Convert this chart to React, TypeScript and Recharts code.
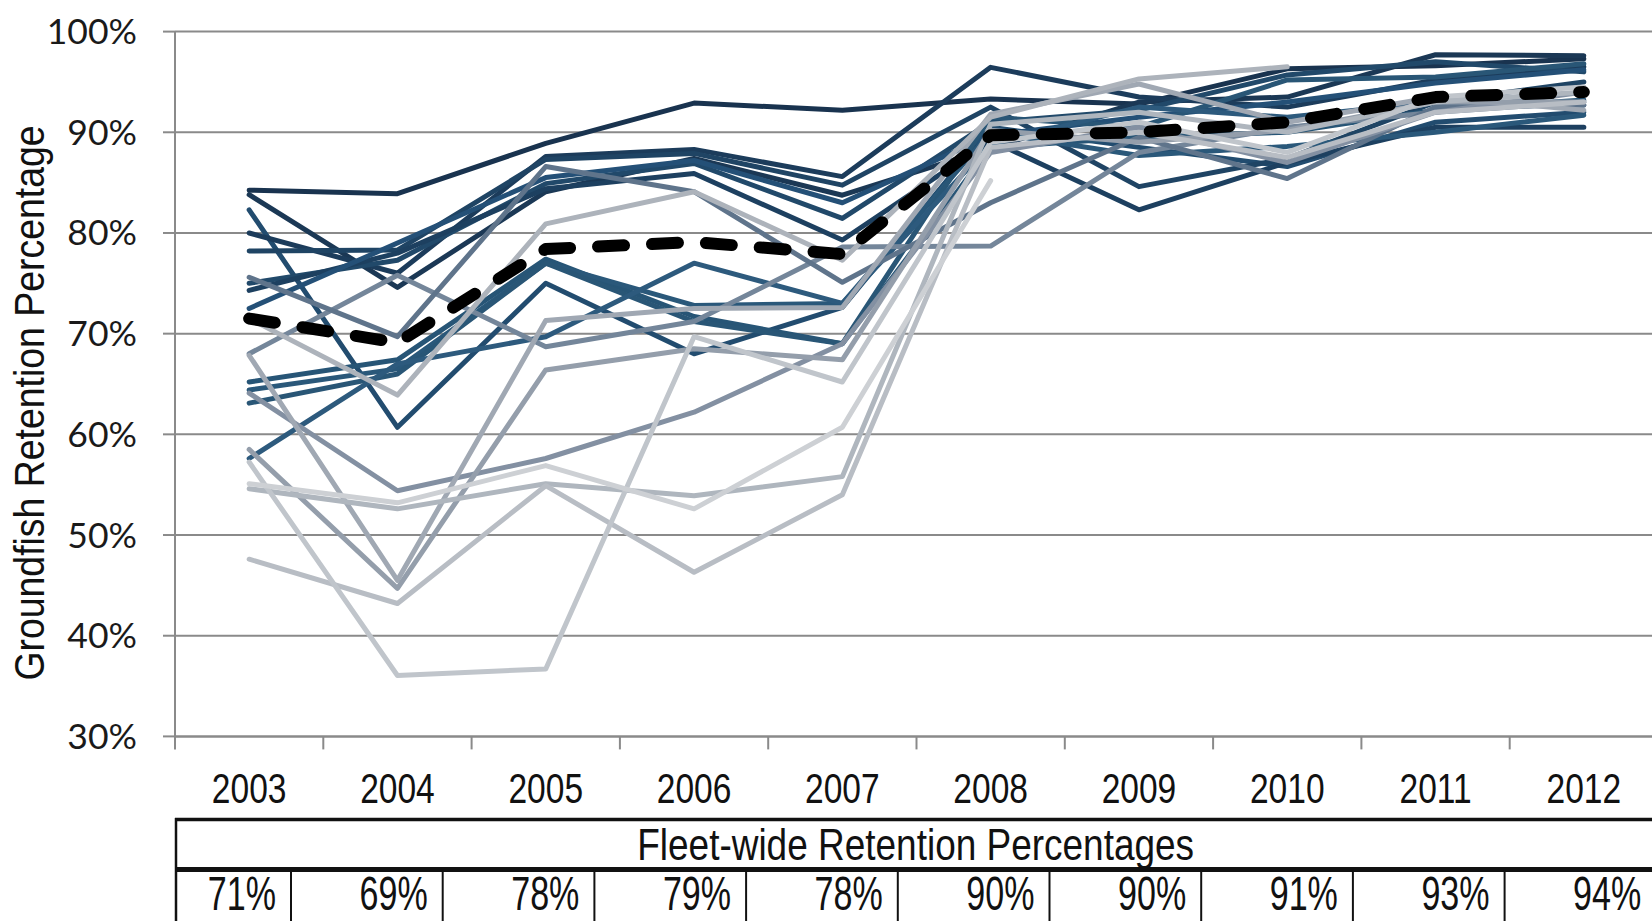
import React from 'react';
import { LineChart, Line, XAxis, YAxis, CartesianGrid } from 'recharts';

const YEARS = [2003, 2004, 2005, 2006, 2007, 2008, 2009, 2010, 2011, 2012];
const Y_TICKS = [30, 40, 50, 60, 70, 80, 90, 100];
const FLEET = [71.5, 69.1, 78.4, 79.1, 77.9, 89.7, 90.0, 91.0, 93.5, 94.0];
const FLEET_TABLE = [71, 69, 78, 79, 78, 90, 90, 91, 93, 94];

const N1 = [84.25, 83.9, 88.9, 92.9, 92.2, 93.3, 92.8, 96.3, 96.6, 97.3];
const N2 = [83.8, 74.6, 84.1, 87.4, 83.75, 88.4, 93.0, 93.5, 97.7, 97.6];
const N3 = [82.3, 60.7, 75.0, 68.0, 72.6, 90.5, 88.5, 86.6, 91.0, 92.0];
const N4 = [80.0, 76.0, 87.6, 88.3, 85.6, 96.45, 93.5, 92.5, 95.2, 96.5];
const N5 = [78.2, 78.3, 87.3, 87.9, 84.75, 92.5, 84.6, 87.4, 93.0, 95.0];
const N6 = [75.0, 77.3, 84.9, 86.9, 81.45, 91.0, 92.2, 95.7, 97.0, 96.0];
const N7 = [74.3, 78.0, 84.4, 85.9, 79.3, 89.2, 82.3, 87.0, 90.5, 90.5];
const N8 = [72.5, 79.0, 85.5, 87.2, 83.0, 89.7, 91.5, 93.0, 94.9, 96.2];
const N9 = [65.2, 67.4, 77.4, 71.7, 69.0, 88.5, 89.5, 90.0, 92.2, 93.2];
const N10 = [64.4, 66.5, 77.0, 72.8, 73.0, 90.0, 87.7, 88.6, 90.0, 91.7];
const N11 = [63.1, 66.0, 77.0, 71.2, 69.0, 91.5, 90.5, 95.2, 95.5, 96.8];
const N12 = [57.6, 67.0, 69.7, 77.0, 73.0, 88.8, 92.5, 91.5, 93.0, 92.7];
const G1 = [68.0, 75.8, 68.7, 71.2, 78.6, 78.7, 88.0, 90.5, 92.0, 93.0];
const G2 = [75.6, 69.7, 86.6, 84.1, 75.1, 83.0, 89.5, 85.4, 92.5, 92.7];
const P1 = [64.1, 54.4, 57.6, 62.2, 69.0, 88.0, 90.5, 87.0, 92.0, 94.0];
const P2 = [67.85, 45.5, 71.3, 72.5, 72.6, 91.8, 94.8, 91.0, 93.5, 92.2];
const P3 = [58.5, 44.7, 66.4, 68.5, 67.4, 90.2, 89.0, 90.2, 93.0, 93.0];
const LG = [71.5, 63.9, 80.9, 84.1, 77.3, 91.5, 95.3, 96.5, null, null];
const P6 = [54.6, 52.6, 55.1, 53.9, 55.8, 90.8, 92.0, 90.0, 93.0, 94.0];
const P7 = [47.6, 43.2, 54.9, 46.3, 54.0, 88.5, 90.0, 87.5, 92.0, 93.0];
const P4 = [57.25, 36.05, 36.7, 69.7, 65.2, 89.0, 91.0, 88.0, 93.5, 94.5];
const P5 = [55.1, 53.2, 56.9, 52.6, 60.7, 85.2, null, null, null, null];

const SERIES: { key: string; values: (number | null)[]; color: string }[] = [
  { key: 'n1', values: N1, color: '#19334f' },
  { key: 'n2', values: N2, color: '#1b3855' },
  { key: 'n3', values: N3, color: '#224c6f' },
  { key: 'n4', values: N4, color: '#1c3c5b' },
  { key: 'n5', values: N5, color: '#1f4464' },
  { key: 'n6', values: N6, color: '#21496a' },
  { key: 'n7', values: N7, color: '#1d4060' },
  { key: 'n8', values: N8, color: '#245077' },
  { key: 'n9', values: N9, color: '#275576' },
  { key: 'n10', values: N10, color: '#2a587a' },
  { key: 'n11', values: N11, color: '#295676' },
  { key: 'n12', values: N12, color: '#2d5a7d' },
  { key: 'g1', values: G1, color: '#74869a' },
  { key: 'g2', values: G2, color: '#5f748b' },
  { key: 'p1', values: P1, color: '#8390a2' },
  { key: 'p2', values: P2, color: '#a0a8b3' },
  { key: 'p3', values: P3, color: '#949eab' },
  { key: 'lg', values: LG, color: '#adb3bb' },
  { key: 'p6', values: P6, color: '#afb6be' },
  { key: 'p7', values: P7, color: '#b8bdc4' },
  { key: 'p4', values: P4, color: '#c0c5cb' },
  { key: 'p5', values: P5, color: '#cdd0d4' },
];

const rows = YEARS.map((year, i) => {
  const r: Record<string, number | null> = { year, fleet: FLEET[i] };
  SERIES.forEach((s) => {
    r[s.key] = s.values[i];
  });
  return r;
});

const X_TICKS: number[] = [];
YEARS.forEach((y) => {
  X_TICKS.push(y - 0.5);
  X_TICKS.push(y);
});
X_TICKS.push(YEARS[YEARS.length - 1] + 0.5);

const AXIS_GRAY = '#8a8a8a';
const NARROW = '"Liberation Sans", Arial, sans-serif';

const YTick = (props: any) => {
  const { x, y, payload } = props;
  return (
    <text x={x} y={y + 12.5} textAnchor="end" fontFamily="Lato, 'DejaVu Sans', sans-serif" fontSize={35.5} fill="#1a1a1a">
      {payload.value}%
    </text>
  );
};

const XTick = (props: any) => {
  const { x, y, payload } = props;
  const v = payload.value as number;
  if (v % 1 !== 0) {
    return <line x1={x} x2={x} y1={y} y2={y + 13} stroke={AXIS_GRAY} strokeWidth={2} />;
  }
  return (
    <text transform={`translate(${x},${y + 67}) scale(0.78,1)`} textAnchor="middle" fontFamily={NARROW} fontSize={43} fill="#111">
      {v}
    </text>
  );
};

const YTitle = () => (
  <text transform="translate(44,403) rotate(-90) scale(0.87,1)" textAnchor="middle" fontFamily={NARROW} fontSize={43} fill="#111">
    Groundfish Retention Percentage
  </text>
);

const TABLE_LEFT = 175;
const FIRST_COL = 116;
const COL_W = 151.7;

const FleetTable = () => {
  const borders = FLEET_TABLE.map((_, i) => TABLE_LEFT + FIRST_COL + i * COL_W);
  const tableRight = TABLE_LEFT + FIRST_COL + (FLEET_TABLE.length - 1) * COL_W;
  return (
    <svg width={1652} height={921} style={{ position: 'absolute', left: 0, top: 0, pointerEvents: 'none' }}>
      <line x1={TABLE_LEFT} x2={1652} y1={819.5} y2={819.5} stroke="#111" strokeWidth={3.5} />
      <line x1={TABLE_LEFT} x2={1652} y1={869.5} y2={869.5} stroke="#111" strokeWidth={5} />
      <line x1={TABLE_LEFT + 1} x2={TABLE_LEFT + 1} y1={818} y2={921} stroke="#111" strokeWidth={2.5} />
      {borders.slice(0, FLEET_TABLE.length - 1).map((bx, i) => (
        <line key={i} x1={bx} x2={bx} y1={869} y2={921} stroke="#111" strokeWidth={2} />
      ))}
      <text transform={`translate(${(TABLE_LEFT + tableRight) / 2},860) scale(0.85,1)`} textAnchor="middle" fontFamily={NARROW} fontSize={43.5} fill="#111">
        Fleet-wide Retention Percentages
      </text>
      {FLEET_TABLE.map((v, i) => (
        <text key={i} transform={`translate(${borders[i] - 15},909.5) scale(0.71,1)`} textAnchor="end" fontFamily={NARROW} fontSize={48} fill="#111">
          {v}%
        </text>
      ))}
    </svg>
  );
};

const LINE_W = 5;

export default function App() {
  return (
    <div style={{ position: 'absolute', left: 0, top: 0, width: 1652, height: 921, overflow: 'hidden', background: '#fff' }}>
      <LineChart
        width={1660}
        height={921}
        data={rows}
        margin={{ top: 31.6, right: 2, bottom: 124.6, left: 75 }}
      >
        <CartesianGrid vertical={false} stroke={AXIS_GRAY} strokeWidth={2} />
        <XAxis
          dataKey="year"
          type="number"
          domain={[YEARS[0] - 0.5, YEARS[YEARS.length - 1] + 0.5]}
          ticks={X_TICKS}
          interval={0}
          tickLine={false}
          tickSize={0}
          tickMargin={0}
          height={60}
          axisLine={{ stroke: AXIS_GRAY, strokeWidth: 2 }}
          tick={<XTick />}
        />
        <YAxis
          type="number"
          domain={[30, 100]}
          ticks={Y_TICKS}
          interval={0}
          width={100}
          tickSize={12}
          tickMargin={26}
          tickLine={{ stroke: AXIS_GRAY, strokeWidth: 2 }}
          axisLine={{ stroke: AXIS_GRAY, strokeWidth: 2 }}
          tick={<YTick />}
          label={{ content: () => <YTitle /> }}
        />
        {SERIES.map((s) => (
          <Line
            key={s.key}
            dataKey={s.key}
            stroke={s.color}
            strokeWidth={LINE_W}
            style={{ strokeWidth: LINE_W }}
            dot={false}
            activeDot={false}
            strokeLinejoin="round"
            strokeLinecap="round"
            isAnimationActive={false}
          />
        ))}
        <Line
          dataKey="fleet"
          stroke="#000"
          strokeWidth={12}
          style={{ strokeWidth: 12 }}
          strokeDasharray="26 28"
          strokeLinecap="round"
          strokeLinejoin="round"
          dot={false}
          activeDot={false}
          isAnimationActive={false}
        />
      </LineChart>
      <FleetTable />
    </div>
  );
}
